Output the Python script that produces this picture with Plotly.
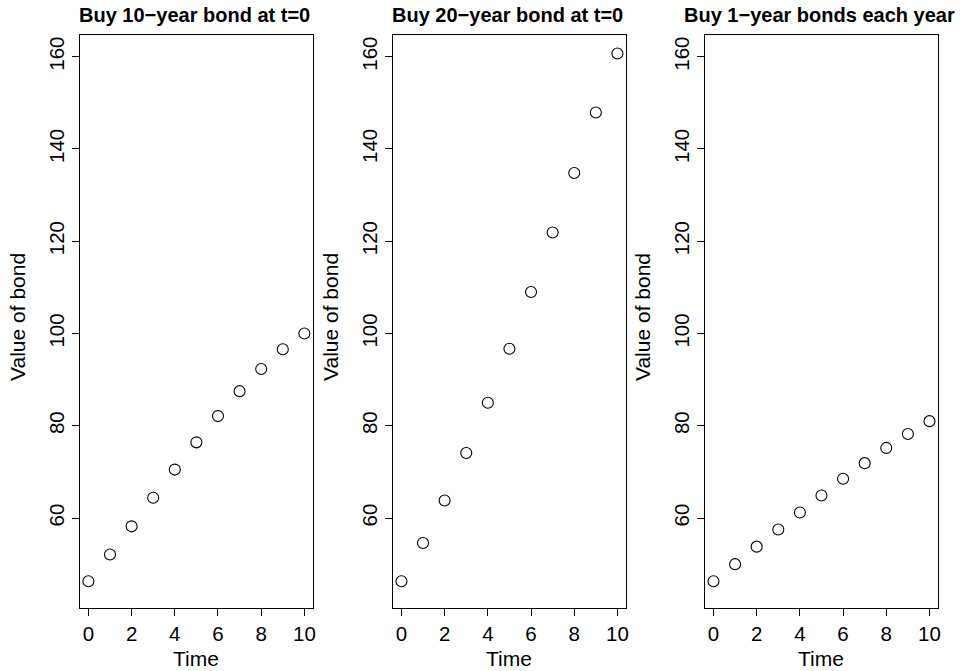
import plotly.graph_objects as go

time = list(range(11))
bond10 = [46.3, 52.1, 58.2, 64.4, 70.5, 76.4, 82.1, 87.5, 92.3, 96.6, 100.0]
bond20 = [46.3, 54.6, 63.8, 74.1, 85.0, 96.7, 109.0, 121.9, 134.8, 147.9, 160.7]
bond1 = [46.3, 50.0, 53.8, 57.5, 61.2, 64.9, 68.5, 71.9, 75.2, 78.2, 81.0]
titles = ["Buy 10\u2212year bond at t=0", "Buy 20\u2212year bond at t=0", "Buy 1\u2212year bonds each year"]
series = [bond10, bond20, bond1]
xticks = [0, 2, 4, 6, 8, 10]
yticks = [60, 80, 100, 120, 140, 160]

W, H = 979, 671
FONT = "Liberation Sans, Arial, Helvetica, sans-serif"
FS = 20.5
FT = 21
px_left = [80, 394, 707]
pw = 234
ptop, pbot = 35, 608

fig = go.Figure()
layout = dict(
    width=W, height=H, margin=dict(l=0, r=0, t=0, b=0),
    paper_bgcolor="white", plot_bgcolor="white", showlegend=False,
    font=dict(family=FONT, size=FS, color="black"),
)
annotations = []
for i, (ys, tt) in enumerate(zip(series, titles)):
    sfx = "" if i == 0 else str(i + 1)
    fig.add_trace(go.Scatter(
        x=time, y=ys, mode="markers",
        marker=dict(symbol="circle-open", size=11, color="black", line=dict(width=1.1, color="black")),
        xaxis="x" + sfx, yaxis="y" + sfx,
    ))
    x0 = px_left[i] / W
    x1 = (px_left[i] + pw) / W
    layout["xaxis" + sfx] = dict(
        domain=[x0, x1], range=[-0.4, 10.4], anchor="y" + sfx,
        tickvals=xticks, ticks="outside", ticklen=7, tickwidth=1, tickcolor="black",
        showline=True, linecolor="black", linewidth=1, mirror=True,
        showgrid=False, zeroline=False, tickfont=dict(size=FS),
    )
    layout["yaxis" + sfx] = dict(
        domain=[1 - pbot / H, 1 - ptop / H], range=[40.5, 164.7], anchor="x" + sfx,
        tickvals=yticks, ticks="outside", ticklen=7, tickwidth=1, tickcolor="black",
        showline=True, linecolor="black", linewidth=1, mirror=True,
        showgrid=False, zeroline=False, tickangle=-90, tickfont=dict(size=FS),
    )
    cx = (px_left[i] + pw / 2) / W
    annotations.append(dict(text="<b>" + tt + "</b>", x=cx - 2 / W, y=1 - 15 / H, xref="paper", yref="paper",
                            xanchor="center", yanchor="middle", showarrow=False, font=dict(size=20)))
    annotations.append(dict(text="Time", x=cx, y=1 - 658 / H, xref="paper", yref="paper",
                            xanchor="center", yanchor="middle", showarrow=False, font=dict(size=FT)))
    annotations.append(dict(text="Value of bond", x=(px_left[i] - 62) / W, y=1 - 317 / H,
                            xref="paper", yref="paper", xanchor="center", yanchor="middle",
                            showarrow=False, textangle=-90, font=dict(size=FT)))
layout["annotations"] = annotations
fig.update_layout(**layout)
fig.write_html("out.html")
